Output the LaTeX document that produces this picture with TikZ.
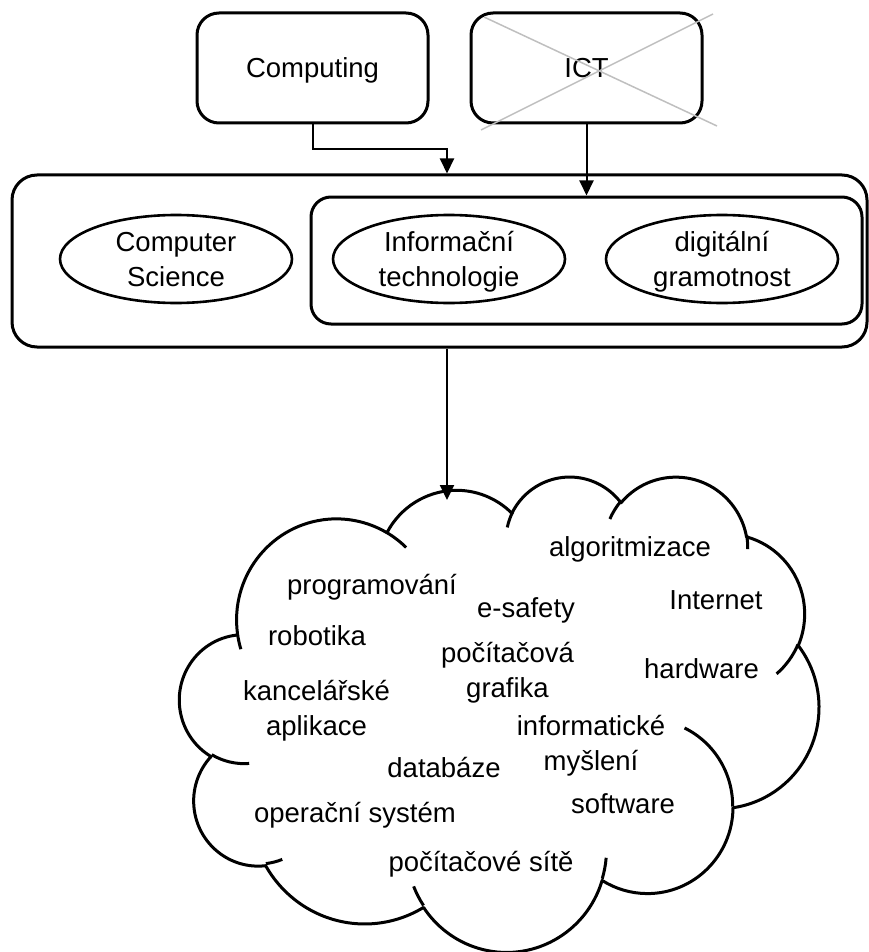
\documentclass[tikz,border=0pt]{standalone}
\usepackage{fontspec}
\setmainfont{Liberation Sans}
\usetikzlibrary{arrows.meta,shapes.geometric}
\begin{document}
\begin{tikzpicture}[x=1pt,y=-1pt,
  bigfont/.style={font=\fontsize{27.5}{35}\selectfont},
  rbox/.style={draw, line width=3pt, rounded corners=22pt, inner sep=0pt},
  ell/.style={draw, ellipse, line width=2.6pt, minimum width=232pt, minimum height=88pt,
              inner sep=0pt, align=center, bigfont},
  conn/.style={line width=2pt},
  arr/.style={conn, -{Triangle[length=15pt,width=14pt]}},
  cloudline/.style={line width=3pt, line join=round},
  word/.style={bigfont, inner sep=0pt, anchor=base},
  word2/.style={bigfont, inner sep=0pt, align=center},
  cross/.style={draw=black!25, line width=1.5pt}]
\useasboundingbox (0,0) rectangle (869,952);

% top boxes
\node[rbox, bigfont, minimum width=231pt, minimum height=110pt, text height=20pt, text depth=0pt]
  (comp) at (312.5,68) {Computing};
\node[rbox, bigfont, minimum width=231pt, minimum height=110pt, text height=20pt, text depth=0pt]
  (ict) at (586.5,68) {ICT};
\coordinate (x1a) at (484,17);
\coordinate (x1b) at (717,126);
\coordinate (x2a) at (481,130);
\coordinate (x2b) at (713,14);
\draw[cross] (x1a) -- (x1b);
\draw[cross] (x2a) -- (x2b);

% big box and inner box
\node[rbox, rounded corners=25pt, minimum width=855pt, minimum height=172pt] (outer) at (439.5,261) {};
\node[rbox, rounded corners=20pt, minimum width=551pt, minimum height=127pt] (inner) at (586.5,260.5) {};

\node[ell] (cs) at (176,259) {\rule{0pt}{20pt}\smash{Computer}\\\smash{Science}};
\node[ell] (it) at (449,259) {\rule{0pt}{20pt}\smash{Informační}\\\smash{technologie}};
\node[ell] (dg) at (722,259) {\rule{0pt}{20pt}\smash{digitální}\\\smash{gramotnost}};

% connectors
\coordinate (cbend) at (447,149);
\draw[arr] (comp.south) |- (cbend) -- (cbend |- outer.north);
\draw[arr] (ict.south) -- (ict.south |- inner.north);
\coordinate (cloudtop) at (447,500);
\draw[arr] (outer.south -| cloudtop) -- (cloudtop);

% cloud
\begin{scope}[shift={(179.8,475.5)}, xscale=14.79, yscale=11.0]
\draw[cloudline] (3.900,14.370)
  \foreach \rW/\rH/\stA/\swA [evaluate=\stA as \tA using {atan2(\rW*sin(\stA),\rH*cos(\stA))},
     evaluate=\stA as \dA using {mod(atan2(\rW*sin(\stA+\swA),\rH*cos(\stA+\swA))-atan2(\rW*sin(\stA),\rH*cos(\stA))+720,360)}]
  in {6.753/9.190/-190.4875/123.7805,
      5.333/7.267/-144.1024/89.9452,
      4.365/5.945/-145.8079/99.7230,
      4.857/6.595/-130.9861/117.2417,
      5.333/7.273/-78.7089/109.0269,
      6.775/9.220/-46.2673/130.2690,
      5.785/7.867/0.6250/114.0333,
      6.752/9.215/22.4516/115.1726,
      7.720/10.543/66.2426/75.7110,
      4.360/5.918/-274.9421/146.7356,
      4.345/5.945/-246.8285/152.5189}
  { arc[start angle=\tA, delta angle=\dA, x radius=\rW, y radius=\rH] } -- cycle;
\draw[cloudline]
  \foreach \pX/\pY/\rW/\rH/\stA/\swA [evaluate=\stA as \tA using {atan2(\rW*sin(\stA),\rH*cos(\stA))},
     evaluate=\stA as \dA using {mod(atan2(\rW*sin(\stA+\swA),\rH*cos(\stA+\swA))-atan2(\rW*sin(\stA),\rH*cos(\stA))+720,360)}]
  in {4.693/26.177/4.345/5.945/86.742/26.4295,
      6.928/34.899/4.360/5.918/73.6105/11.4475,
      16.478/39.090/6.752/9.215/137.6242/14.0811,
      28.827/34.751/6.752/9.215/6.4533/15.9984,
      34.129/22.954/5.785/7.867/-70.2924/70.9174,
      41.798/15.354/5.333/7.273/30.3180/27.7515,
      38.324/5.426/4.857/6.595/-13.7443/14.8589,
      29.078/3.952/4.857/6.595/-149.1815/18.1954,
      22.141/4.720/4.365/5.945/-163.4943/17.6864,
      14.000/5.192/6.753/9.190/-66.7070/12.3194,
      4.127/15.789/6.753/9.190/157.6544/11.8582}
  { (\pX,\pY) arc[start angle=\tA, delta angle=\dA, x radius=\rW, y radius=\rH] };
\end{scope}

% cloud words
\node[word] (w1) at (630,556) {algoritmizace};
\node[word] (w2) at (372,594) {programování};
\node[word] (w3) at (526,617) {e-safety};
\node[word] (w4) at (716,609) {Internet};
\node[word] (w5) at (317,645) {robotika};
\node[word2] (w6) at (507.5,669.5) {\rule{0pt}{20pt}\smash{počítačová}\\\smash{grafika}};
\node[word] (w7) at (701.5,678) {hardware};
\node[word2] (w8) at (316.5,707.5) {\rule{0pt}{20pt}\smash{kancelářské}\\\smash{aplikace}};
\node[word2] (w9) at (591,742.5) {\rule{0pt}{20pt}\smash{informatické}\\\smash{myšlení}};
\node[word] (w10) at (444,777) {databáze};
\node[word] (w11) at (623,813) {software};
\node[word] (w12) at (355,822) {operační systém};
\node[word] (w13) at (481,871) {počítačové sítě};
\end{tikzpicture}
\end{document}
